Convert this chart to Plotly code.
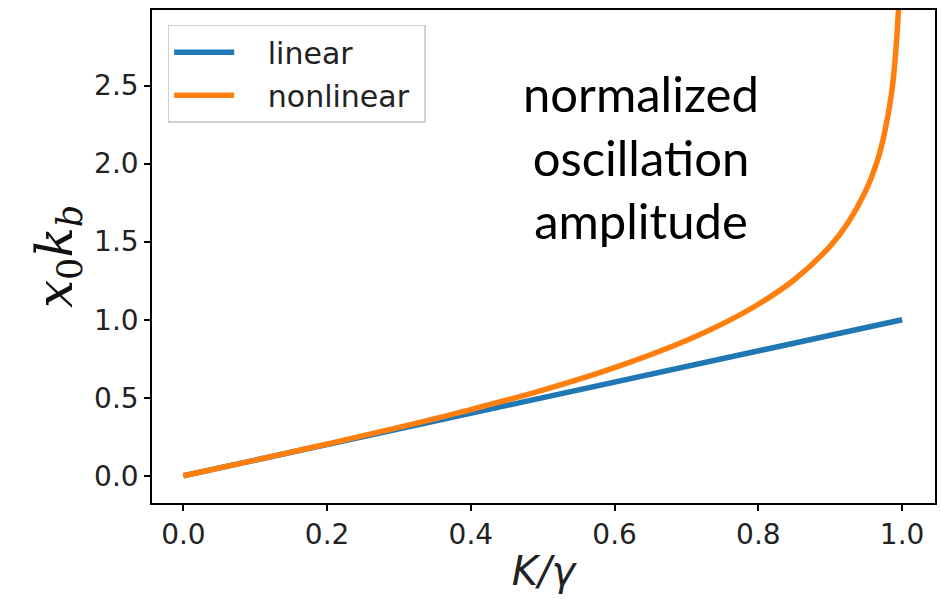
import plotly.graph_objects as go

# data
x_lin = [0.0, 1.0]
y_lin = [0.0, 1.0]

x_nl = [0.0, 0.1, 0.2, 0.3, 0.4, 0.5, 0.6, 0.7, 0.75, 0.8, 0.85, 0.9,
        0.925, 0.95, 0.965, 0.975, 0.985, 0.99, 0.995, 0.998]
y_nl = [0.0, 0.10, 0.203, 0.31, 0.424, 0.549, 0.693, 0.867, 0.973, 1.099,
        1.256, 1.472, 1.623, 1.832, 2.01, 2.185, 2.44, 2.65, 2.99, 3.45]

x_ticks = [0.0, 0.2, 0.4, 0.6, 0.8, 1.0]
y_ticks = [0.0, 0.5, 1.0, 1.5, 2.0, 2.5]

TICKFONT = "DejaVu Sans"
PAD = "\u00a0\u00a0\u00a0"

fig = go.Figure()
fig.add_trace(go.Scatter(x=x_lin, y=y_lin, mode="lines", name=PAD + "linear",
                         legendgroup="a",
                         line=dict(color="#1f77b4", width=5.5)))
fig.add_trace(go.Scatter(x=x_nl, y=y_nl, mode="lines", name=PAD + "nonlinear\u00a0",
                         legendgroup="b",
                         line=dict(color="#ff7f0e", width=5.5, shape="spline")))

axis_common = dict(showline=True, linecolor="black", linewidth=1.5, mirror=True,
                   ticks="outside", ticklen=6, tickwidth=1.5, tickcolor="black",
                   showgrid=False, zeroline=False,
                   tickfont=dict(family=TICKFONT, size=28, color="#222"))

fig.update_xaxes(range=[-0.0437, 1.0458], tickvals=x_ticks,
                 ticktext=[f"{v:.1f}" for v in x_ticks],
                 title=dict(text="<i>K/γ</i>",
                            font=dict(family=TICKFONT, size=40, color="#222"),
                            standoff=7),
                 **axis_common)
fig.update_yaxes(range=[-0.175, 2.985], tickvals=y_ticks,
                 ticktext=[f"{v:.1f}" for v in y_ticks],
                 title=dict(text="<i>x</i><sub>0</sub><i>k</i><sub><i>b</i></sub>",
                            font=dict(family="DejaVu Serif, serif", size=50, color="#111"),
                            standoff=6),
                 **axis_common)

fig.add_annotation(x=0.625, y=0.895, xref="paper", yref="paper", xanchor="center",
                   yanchor="top", showarrow=False, align="center",
                   text="normalized<br>oscillation<br>amplitude",
                   font=dict(family="Lato, Open Sans, sans-serif", size=49, color="black"))

fig.update_layout(width=941, height=599, margin=dict(l=152, r=4, t=10, b=96),
                  plot_bgcolor="white", paper_bgcolor="white",
                  legend=dict(x=0.02, y=0.97, xanchor="left", yanchor="top",
                              bgcolor="white", bordercolor="#d0d0d0", borderwidth=1.5,
                              font=dict(family=TICKFONT, size=30, color="#222"),
                              traceorder="grouped",
                              itemwidth=60, tracegroupgap=1))

fig.write_html("out.html")
